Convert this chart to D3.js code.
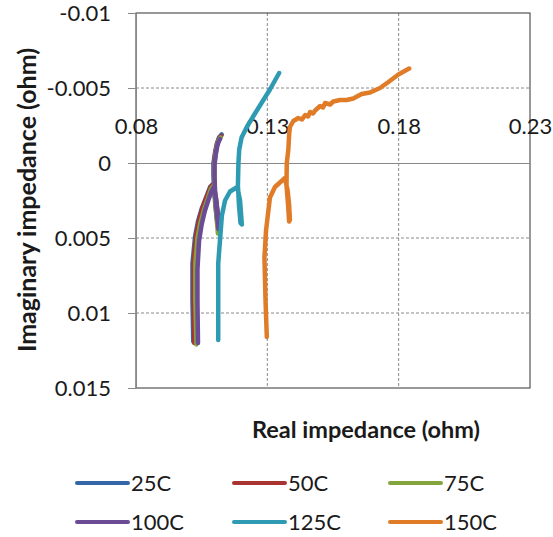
<!DOCTYPE html>
<html>
<head>
<meta charset="utf-8">
<script src="https://cdn.jsdelivr.net/npm/d3@7"></script>
<style>
  body { margin: 0; background: #fff; }
  text { font-family: Lato, "Liberation Sans", sans-serif; fill: #1a1a1a; }
</style>
</head>
<body>
<script>
// Nyquist plot, real vs imaginary impedance at six temperatures
var xTicks = [0.08, 0.13, 0.18, 0.23];
var yTicks = [-0.01, -0.005, 0, 0.005, 0.01, 0.015];
var yTickLabels = ["-0.01", "-0.005", "0", "0.005", "0.01", "0.015"];
var seriesNames = ["25C", "50C", "75C", "100C", "125C", "150C"];
var seriesColors = ["#3567a8", "#a93331", "#84a43e", "#6b4c94", "#2e9bb3", "#e07b28"];

var x25 = [0.1018,0.1015,0.1015,0.1025,0.1036,0.1051,0.1067,0.1082,0.1093,0.1101,0.1108,0.1116,0.1112,0.1105,0.1097,0.1095,0.1095,0.1101,0.1108,0.1116,0.1126];
var y25 = [0.0119,0.0091,0.0067,0.0049,0.0039,0.0030,0.0023,0.0016,0.0014,0.0021,0.0031,0.0041,0.0043,0.0033,0.0018,0.0008,0.0000,-0.0007,-0.0013,-0.0017,-0.0019];

var x50 = [0.1022,0.1019,0.1019,0.1029,0.1040,0.1055,0.1070,0.1084,0.1095,0.1103,0.1110,0.1117,0.1113,0.1106,0.1099,0.1097,0.1097,0.1102,0.1109,0.1116,0.1124];
var y50 = [0.0120,0.0091,0.0066,0.0048,0.0038,0.0029,0.0022,0.0016,0.0014,0.0022,0.0032,0.0042,0.0043,0.0033,0.0018,0.0008,0.0000,-0.0007,-0.0013,-0.0016,-0.0018];

var x75 = [0.1030,0.1026,0.1026,0.1034,0.1045,0.1059,0.1073,0.1086,0.1097,0.1104,0.1110,0.1115,0.1112,0.1106,0.1100,0.1098,0.1098,0.1103,0.1109,0.1115,0.1122];
var y75 = [0.0121,0.0091,0.0067,0.0050,0.0040,0.0031,0.0024,0.0017,0.0015,0.0024,0.0035,0.0046,0.0047,0.0035,0.0019,0.0009,0.0001,-0.0006,-0.0012,-0.0015,-0.0017];

var x100 = [0.1036,0.1034,0.1034,0.1040,0.1050,0.1062,0.1075,0.1087,0.1097,0.1105,0.1111,0.1117,0.1114,0.1108,0.1101,0.1099,0.1099,0.1104,0.1109,0.1114,0.1120];
var y100 = [0.0120,0.0092,0.0071,0.0052,0.0041,0.0032,0.0025,0.0019,0.0016,0.0024,0.0034,0.0043,0.0044,0.0034,0.0019,0.0009,0.0001,-0.0006,-0.0011,-0.0014,-0.0016];

var x125 = [0.1113,0.1113,0.1127,0.1139,0.1158,0.1186,0.1196,0.1203,0.1198,0.1192,0.1188,0.1190,0.1193,0.1202,0.1222,0.1253,0.1285,0.1310,0.1329,0.1345];
var y125 = [0.0118,0.0067,0.0035,0.0025,0.0019,0.0016,0.0025,0.0041,0.0040,0.0028,0.0015,0.0000,-0.0009,-0.0017,-0.0024,-0.0033,-0.0042,-0.0049,-0.0055,-0.0060];

var x150 = [0.1298,0.1293,0.1289,0.1295,0.1310,0.1329,0.1348,0.1367,0.1377,0.1383,0.1386,0.1383,0.1379,0.1373,0.1374,0.1380,0.1383,0.1386,0.1399,0.1418,0.1432,0.1444,0.1455,0.1463,0.1474,0.1482,0.1501,0.1512,0.1520,0.1539,0.1551,0.1577,0.1602,0.1627,0.1659,0.1691,0.1729,0.1761,0.1799,0.1840];
var y150 = [0.0116,0.0091,0.0063,0.0045,0.0023,0.0016,0.0013,0.0010,0.0018,0.0028,0.0038,0.0039,0.0028,0.0015,0.0000,-0.0009,-0.0019,-0.0024,-0.0028,-0.0030,-0.0029,-0.0032,-0.0031,-0.0034,-0.0033,-0.0035,-0.0038,-0.0037,-0.0040,-0.0039,-0.0041,-0.0042,-0.0042,-0.0043,-0.0046,-0.0047,-0.0050,-0.0054,-0.0059,-0.0063];

var seriesX = [x25, x50, x75, x100, x125, x150];
var seriesY = [y25, y50, y75, y100, y125, y150];

var width = 553, height = 537;
var plot = {left: 136, right: 530, top: 13, bottom: 388};

var svg = d3.select("body").append("svg")
    .attr("width", width)
    .attr("height", height);

var x = d3.scaleLinear().domain([0.08, 0.23]).range([plot.left, plot.right]);
var y = d3.scaleLinear().domain([-0.01, 0.015]).range([plot.top, plot.bottom]);

// gridlines, dashed
svg.append("g").selectAll("line")
    .data(yTicks.filter(function(d) { return d != 0 && d != -0.01 && d != 0.015; }))
    .enter().append("line")
    .attr("x1", plot.left).attr("x2", plot.right)
    .attr("y1", function(d) { return y(d); })
    .attr("y2", function(d) { return y(d); })
    .attr("stroke", "#8a8a8a")
    .attr("stroke-dasharray", "3,2");

svg.append("g").selectAll("line")
    .data(xTicks.slice(1, 3))
    .enter().append("line")
    .attr("y1", plot.top).attr("y2", plot.bottom)
    .attr("x1", function(d) { return x(d); })
    .attr("x2", function(d) { return x(d); })
    .attr("stroke", "#8a8a8a")
    .attr("stroke-dasharray", "3,2");

// plot border
svg.append("rect")
    .attr("x", plot.left).attr("y", plot.top)
    .attr("width", plot.right - plot.left)
    .attr("height", plot.bottom - plot.top)
    .attr("fill", "none")
    .attr("stroke", "#333")
    .attr("stroke-width", 1);

// y axis
var yAxis = d3.axisLeft(y)
    .tickValues(yTicks)
    .tickSize(8)
    .tickFormat(function(d, i) { return yTickLabels[i]; });
var gy = svg.append("g")
    .attr("transform", "translate(" + plot.left + ",0)")
    .call(yAxis);
gy.select(".domain").attr("stroke", "#888");
gy.selectAll(".tick line").attr("stroke", "#888");
gy.selectAll(".tick text")
    .attr("x", -25)
    .style("font-size", "22px")
    .style("font-family", "Lato, 'Liberation Sans', sans-serif")
    .attr("fill", "#1a1a1a");

// x axis crosses at y = 0, labels sit above it
var xAxis = d3.axisTop(x)
    .tickValues(xTicks)
    .tickSize(0)
    .tickFormat(d3.format(".2f"));
var gx = svg.append("g")
    .attr("transform", "translate(0," + y(0) + ")")
    .call(xAxis);
gx.select(".domain").attr("stroke", "#888");
gx.selectAll(".tick text")
    .attr("y", -29)
    .style("font-size", "22px")
    .style("font-family", "Lato, 'Liberation Sans', sans-serif")
    .attr("fill", "#1a1a1a");

// series lines
var line = d3.line()
    .x(function(d) { return x(d[0]); })
    .y(function(d) { return y(d[1]); });

seriesNames.forEach(function(name, i) {
  var pts = d3.zip(seriesX[i], seriesY[i]);
  svg.append("path")
      .datum(pts)
      .attr("d", line)
      .attr("fill", "none")
      .attr("stroke", seriesColors[i])
      .attr("stroke-width", 4.5)
      .attr("stroke-linejoin", "round")
      .attr("stroke-linecap", "round");
});

// axis titles
svg.append("text")
    .attr("x", 366).attr("y", 438)
    .attr("text-anchor", "middle")
    .style("font-size", "23.5px")
    .style("font-weight", "bold")
    .text("Real impedance (ohm)");

svg.append("text")
    .attr("transform", "translate(36,200) rotate(-90)")
    .attr("text-anchor", "middle")
    .style("font-size", "25px")
    .style("font-weight", "bold")
    .text("Imaginary impedance (ohm)");

// legend, three columns two rows
var legCols = [77, 234, 390], legRows = [483, 522];
var legend = svg.append("g").selectAll("g")
    .data(seriesNames)
    .enter().append("g")
    .attr("transform", function(d, i) {
      return "translate(" + legCols[i % 3] + "," + legRows[Math.floor(i / 3)] + ")";
    });
legend.append("line")
    .attr("x1", 0).attr("x2", 51)
    .attr("stroke", function(d, i) { return seriesColors[i]; })
    .attr("stroke-width", 4)
    .attr("stroke-linecap", "round");
legend.append("text")
    .attr("x", 54).attr("dy", "0.35em")
    .style("font-size", "22px")
    .text(function(d) { return d; });
</script>
</body>
</html>
